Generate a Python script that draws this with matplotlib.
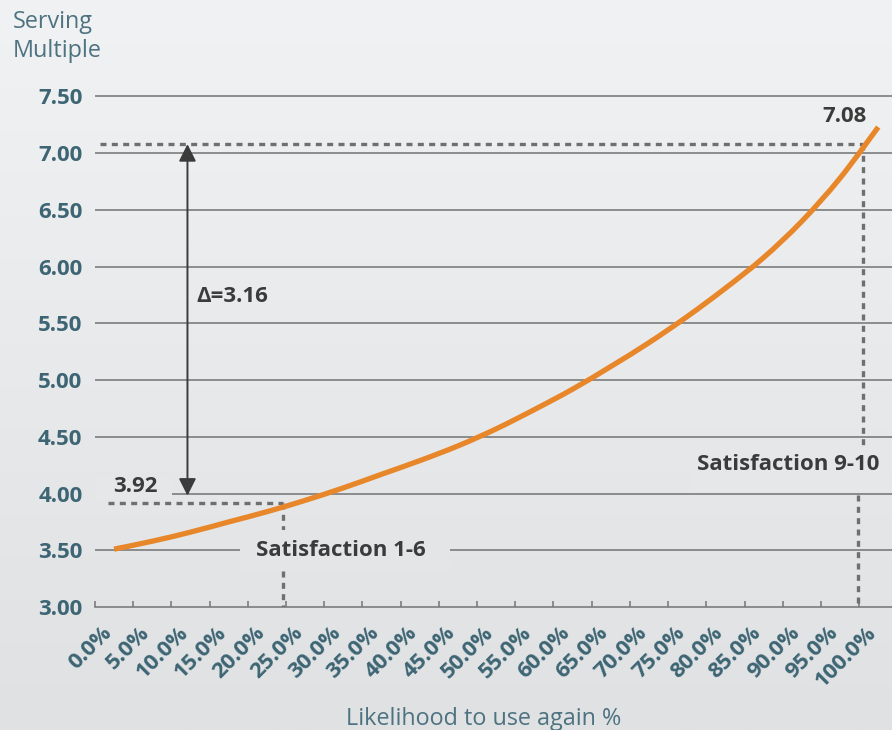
import numpy as np
import matplotlib
matplotlib.use("Agg")
import matplotlib.pyplot as plt
from matplotlib.patches import Rectangle, PathPatch
from matplotlib.path import Path
from matplotlib.transforms import ScaledTranslation

plt.rcParams['font.family'] = ['Open Sans', 'DejaVu Sans']

# ---- data -------------------------------------------------------------
likelihood_pct = [0, 5, 10, 15, 20, 25, 30, 35, 40, 45, 50,
                  55, 60, 65, 70, 75, 80, 85, 90, 95, 100]
serving_multiple = [3.51, 3.58, 3.66, 3.75, 3.84, 3.94, 4.05, 4.17, 4.29, 4.42, 4.57,
                    4.74, 4.92, 5.12, 5.33, 5.56, 5.81, 6.08, 6.40, 6.78, 7.23]
x_tick_labels = ["0.0%", "5.0%", "10.0%", "15.0%", "20.0%", "25.0%", "30.0%",
                 "35.0%", "40.0%", "45.0%", "50.0%", "55.0%", "60.0%", "65.0%",
                 "70.0%", "75.0%", "80.0%", "85.0%", "90.0%", "95.0%", "100.0%"]
y_ticks = [3.00, 3.50, 4.00, 4.50, 5.00, 5.50, 6.00, 6.50, 7.00, 7.50]
low_value = 3.92
high_value = 7.08
delta_value = 3.16

# ---- colours ----------------------------------------------------------
BG_TOP = np.array([241, 242, 243]) / 255
BG_BOTTOM = np.array([223, 225, 227]) / 255
TEAL = "#3d6573"
TEAL_LIGHT = "#4d7380"
GRID = "#7c7c7c"
DARK = "#3b3b3b"
DOTS = "#6f6f6f"
ORANGE = "#e8862a"

W, H = 892, 730
fig = plt.figure(figsize=(W / 100, H / 100), dpi=100)


def bg_at(py):
    """Background colour at pixel row py (0 = top)."""
    t = py / H
    return tuple(BG_TOP * (1 - t) + BG_BOTTOM * t)


def smooth_path(xs, ys):
    """Catmull-Rom curve through the points, as cubic Bezier segments."""
    pts = np.column_stack([xs, ys]).astype(float)
    ext = np.vstack([pts[0], pts, pts[-1]])
    verts = [pts[0]]
    codes = [Path.MOVETO]
    for i in range(len(pts) - 1):
        p0, p1, p2, p3 = ext[i], ext[i + 1], ext[i + 2], ext[i + 3]
        verts += [p1 + (p2 - p0) / 6, p2 - (p3 - p1) / 6, p2]
        codes += [Path.CURVE4] * 3
    return Path(verts, codes)


# vertical gradient background
bg = fig.add_axes([0, 0, 1, 1], zorder=-10)
grad = np.linspace(0, 1, 256)[:, None, None]
img = BG_TOP[None, None, :] * (1 - grad) + BG_BOTTOM[None, None, :] * grad
bg.imshow(img, aspect="auto", extent=[0, 1, 0, 1])
bg.set_axis_off()

ax = fig.add_axes([95 / W, (H - 607) / H, 797 / W, 517 / H])
ax.patch.set_alpha(0)
ax.set_xlim(-2.5, 101.8)
ax.set_ylim(3.0, 7.557)

for s in ["left", "right", "top"]:
    ax.spines[s].set_visible(False)
ax.spines["bottom"].set_color(GRID)
ax.spines["bottom"].set_linewidth(1.2)

# horizontal gridlines
for v in y_ticks[1:]:
    ax.axhline(v, color=GRID, lw=1.2, zorder=1)

# ticks
ax.set_yticks(y_ticks)
ax.set_yticklabels([f"{v:.2f}" for v in y_ticks], fontsize=16,
                   fontweight="bold", color=TEAL)
ax.tick_params(axis="y", length=0, pad=9)

ax.set_xticks(likelihood_pct)
ax.set_xticklabels(x_tick_labels, rotation=45, ha="right",
                   rotation_mode="anchor", fontsize=16,
                   fontweight="bold", color=TEAL)
ax.tick_params(axis="x", which="major", length=0, pad=11)
shift = ScaledTranslation(-13 / 100, 0, fig.dpi_scale_trans)
for lbl in ax.get_xticklabels():
    lbl.set_transform(lbl.get_transform() + shift)
ax.set_xticks(np.arange(-2.5, 100, 5), minor=True)
ax.tick_params(axis="x", which="minor", direction="in", length=4.5,
               width=1.2, color=GRID)

# curve
ax.add_patch(PathPatch(smooth_path(likelihood_pct, serving_multiple),
                       facecolor="none", edgecolor=ORANGE, lw=3.8,
                       capstyle="butt", zorder=4))

# dotted reference lines
dot = dict(color=DOTS, lw=2.4, linestyle=(0, (1.8, 1.6)),
           dash_capstyle="butt", zorder=3)
ax.plot([-0.8, 22.1], [low_value, low_value], **dot)
ax.plot([22.1, 22.1], [low_value, 3.0], **dot)
ax.plot([-1.85, 98.0], [high_value, high_value], **dot)
ax.plot([98.0, 98.0], [high_value, 4.30], **dot)
ax.plot([97.4, 97.4], [3.99, 3.0], **dot)

# label backgrounds that interrupt the lines
ax.add_patch(Rectangle((16.5, 3.326), 27.5, 0.353, facecolor=bg_at(550),
                       edgecolor="none", zorder=5))
ax.add_patch(Rectangle((75.4, 4.022), 26.0, 0.371, facecolor=bg_at(470),
                       edgecolor="none", zorder=5))
ax.add_patch(Rectangle((-2.5, 3.94), 10.1, 0.197, facecolor=bg_at(488),
                       edgecolor="none", zorder=2))

# annotations
ax.text(29.7, 3.502, "Satisfaction 1-6", ha="center", va="center",
        fontsize=16, fontweight="bold", color=DARK, zorder=6)
ax.text(100.2, 4.252, "Satisfaction 9-10", ha="right", va="center",
        fontsize=16, fontweight="bold", color=DARK, zorder=6)
ax.text(-0.13, 4.06, f"{low_value:.2f}", ha="left", va="center",
        fontsize=16, fontweight="bold", color=DARK, zorder=6)
ax.text(98.5, 7.322, f"{high_value:.2f}", ha="right", va="center",
        fontsize=16, fontweight="bold", color=DARK, zorder=6)
ax.text(10.8, 5.741, f"\u0394={delta_value:.2f}", ha="left", va="center",
        fontsize=16, fontweight="bold", color=DARK, zorder=6)

ax.annotate("", xy=(9.6, high_value), xytext=(9.6, low_value),
            arrowprops=dict(arrowstyle="<|-|>,head_length=0.4,head_width=0.2",
                            color=DARK, lw=1.4, mutation_scale=26,
                            shrinkA=5, shrinkB=0),
            zorder=6)

# axis titles
fig.text(13 / W, 1 - 10 / H, "Serving\nMultiple", ha="left", va="top",
         fontsize=16.8, color=TEAL_LIGHT, linespacing=1.27)
fig.text(484 / W, 1 - 719 / H, "Likelihood to use again %", ha="center",
         va="center", fontsize=16.8, color=TEAL_LIGHT)

fig.savefig("out.png", dpi=100)
